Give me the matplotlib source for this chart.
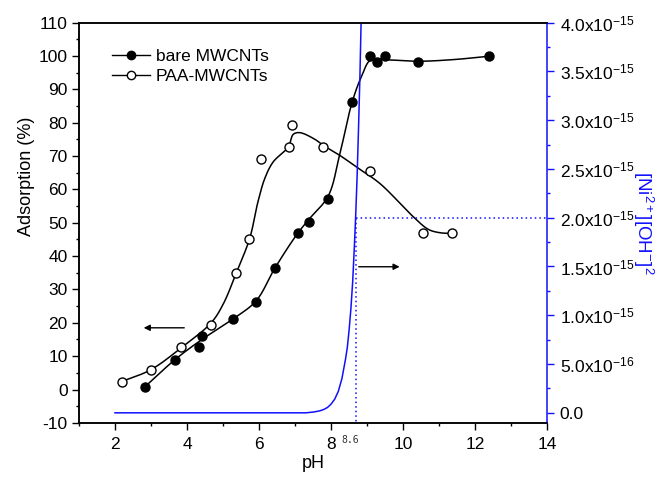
import numpy as np
import matplotlib
matplotlib.use("Agg")
import matplotlib.pyplot as plt
from matplotlib.ticker import MultipleLocator, FuncFormatter
from matplotlib.transforms import blended_transform_factory

plt.rcParams['font.family'] = ['Liberation Sans', 'DejaVu Sans']
plt.rcParams['mathtext.fontset'] = 'custom'
plt.rcParams['mathtext.rm'] = 'Liberation Sans'
plt.rcParams['mathtext.it'] = 'Liberation Sans:italic'
plt.rcParams['mathtext.bf'] = 'Liberation Sans:bold'
plt.rcParams['axes.unicode_minus'] = False

# measured points
bare_ph = [2.82, 3.66, 4.33, 4.41, 5.27, 5.92, 6.44, 7.07, 7.38, 7.92, 8.58, 9.09, 9.28, 9.49, 10.42, 12.38]
bare_ads = [0.7, 8.9, 12.7, 16.0, 21.1, 26.3, 36.5, 46.8, 50.3, 57.1, 86.2, 99.9, 98.1, 99.9, 98.2, 99.9]

paa_ph = [2.19, 2.99, 3.84, 4.67, 5.36, 5.72, 6.05, 6.83, 6.91, 7.78, 9.09, 10.56, 11.36]
paa_ads = [2.4, 5.8, 12.7, 19.4, 34.8, 45.1, 69.0, 72.6, 79.3, 72.6, 65.5, 46.8, 46.8]

# fitted curves
bare_fit_ph = [2.82, 3.66, 4.4, 5.27, 5.92, 6.44, 7.07, 7.4, 7.92, 8.24, 8.58, 8.85, 9.1, 9.6, 10.42, 11.4, 12.38]
bare_fit_ads = [0.7, 8.9, 14.9, 21.1, 26.6, 36.4, 46.8, 51.2, 58.0, 70.5, 86.0, 94.0, 98.8, 98.8, 98.4, 98.9, 99.9]

paa_fit_ph = [2.19, 2.99, 3.84, 4.67, 5.0, 5.37, 5.74, 5.97, 6.16, 6.39, 6.81, 6.95, 7.13, 7.55, 7.78, 8.24, 8.7, 9.35, 10.28, 10.7, 11.02, 11.34]
paa_fit_ads = [2.4, 5.9, 12.5, 20.0, 25.5, 35.0, 45.3, 56.3, 63.3, 68.2, 72.7, 76.5, 77.0, 75.0, 73.2, 70.2, 66.7, 61.8, 51.8, 48.0, 47.0, 46.8]

# [Ni2+][OH-]^2 curve (right axis), units of 1e-15
ksp_ph = [2.0, 7.3, 7.5, 7.6, 7.7, 7.8, 7.9, 8.0, 8.1, 8.2, 8.3, 8.4, 8.45, 8.5, 8.55, 8.6, 8.65, 8.68, 8.72, 8.76, 8.8, 8.85, 8.9]
ksp_val = [0.0, 0.0, 0.008, 0.014, 0.022, 0.035, 0.055, 0.09, 0.14, 0.22, 0.35, 0.55, 0.67, 0.85, 1.07, 1.35, 1.74, 2.0, 2.4, 2.9, 3.45, 4.3, 5.5]

ph_mark = 8.68
ksp_mark = 2.0e-15


def smooth(x, y, n=30, sx=36.0, sy=3.34):
    # centripetal catmull-rom, distances measured in screen-like units
    pts = np.column_stack([np.asarray(x) * sx, np.asarray(y) * sy])
    p = np.vstack([2 * pts[0] - pts[1], pts, 2 * pts[-1] - pts[-2]])
    out = []
    for i in range(1, len(p) - 2):
        p0, p1, p2, p3 = p[i - 1], p[i], p[i + 1], p[i + 2]
        t0 = 0.0
        t1 = t0 + np.linalg.norm(p1 - p0) ** 0.5
        t2 = t1 + np.linalg.norm(p2 - p1) ** 0.5
        t3 = t2 + np.linalg.norm(p3 - p2) ** 0.5
        t = np.linspace(t1, t2, n, endpoint=False)[:, None]
        a1 = (t1 - t) / (t1 - t0) * p0 + (t - t0) / (t1 - t0) * p1
        a2 = (t2 - t) / (t2 - t1) * p1 + (t - t1) / (t2 - t1) * p2
        a3 = (t3 - t) / (t3 - t2) * p2 + (t - t2) / (t3 - t2) * p3
        b1 = (t2 - t) / (t2 - t0) * a1 + (t - t0) / (t2 - t0) * a2
        b2 = (t3 - t) / (t3 - t1) * a2 + (t - t1) / (t3 - t1) * a3
        out.append((t2 - t) / (t2 - t1) * b1 + (t - t1) / (t2 - t1) * b2)
    out.append(pts[-1:])
    s = np.vstack(out)
    return s[:, 0] / sx, s[:, 1] / sy


fig = plt.figure(figsize=(6.69, 4.8), dpi=100)
ax = fig.add_axes([0.118, 0.119, 0.700, 0.834])
ax2 = ax.twinx()

blue = '#1010ff'

# right axis curve
ax2.plot(ksp_ph, np.array(ksp_val) * 1e-15, color=blue, lw=1.1)
ax2.plot([ph_mark, ph_mark], [-1e-15, ksp_mark], color=blue, lw=1.1, ls=(0, (1, 2)))
ax2.plot([ph_mark, 14], [ksp_mark, ksp_mark], color=blue, lw=1.1, ls=(0, (1, 2)))
ax2.set_ylim(-0.103e-15, 4.0e-15)

# left axis curves
bx, by = smooth(bare_fit_ph, bare_fit_ads)
px, py = smooth(paa_fit_ph, paa_fit_ads)
ax.plot(bx, by, color='black', lw=1.1, zorder=3)
ax.plot(px, py, color='black', lw=1.1, zorder=3)
ax.plot(bare_ph, bare_ads, 'o', color='black', ms=6.5, zorder=4)
ax.plot(paa_ph, paa_ads, 'o', mfc='white', mec='black', mew=1.0, ms=6.5, zorder=4)

# legend proxies
h1, = ax.plot([], [], '-o', color='black', ms=6, lw=1.0, label='bare MWCNTs')
h2, = ax.plot([], [], '-o', color='black', mfc='white', ms=6, lw=1.0, label='PAA-MWCNTs')
ax.legend(handles=[h1, h2], loc='upper left', bbox_to_anchor=(0.07, 0.935), frameon=False,
          fontsize=12.5, borderpad=0, borderaxespad=0, handlelength=2.2, handletextpad=0.35,
          labelspacing=0.3)

# arrows
ax.annotate('', xy=(2.72, 18.5), xytext=(4.0, 18.5),
            arrowprops=dict(arrowstyle='-|>', color='black', lw=1.0, mutation_scale=9))
ax.annotate('', xy=(9.98, 36.8), xytext=(8.69, 36.8),
            arrowprops=dict(arrowstyle='-|>', color='black', lw=1.0, mutation_scale=9))

ax.set_xlim(1, 14)
ax.set_ylim(-10, 110)
ax.xaxis.set_minor_locator(MultipleLocator(1))
ax.set_xticks([2, 4, 6, 8, 10, 12, 14])
ax.yaxis.set_major_locator(MultipleLocator(10))
ax.yaxis.set_minor_locator(MultipleLocator(5))
ax.tick_params(axis='both', which='major', direction='out', length=5, width=1.0, labelsize=12.5, pad=3)
ax.tick_params(axis='x', which='major', pad=5)
ax.tick_params(axis='both', which='minor', direction='out', length=2.5, width=1.0)
ax.tick_params(top=False, which='both')

ax2.yaxis.set_major_locator(MultipleLocator(0.5e-15))
ax2.yaxis.set_minor_locator(MultipleLocator(0.25e-15))


def sci_fmt(v, pos):
    if abs(v) < 1e-20:
        return '0.0'
    e = int(np.floor(np.log10(abs(v))))
    m = v / 10 ** e
    return f'{m:.1f}x10$^{{{e}}}$'


ax2.yaxis.set_major_formatter(FuncFormatter(sci_fmt))
ax2.tick_params(axis='y', which='major', direction='out', length=5, width=1.0, color=blue,
                labelsize=12.5, labelcolor='black', pad=4)
ax2.tick_params(axis='y', which='minor', direction='out', length=2.5, width=1.0, color=blue)

for a in (ax, ax2):
    for s in a.spines.values():
        s.set_linewidth(1.1)
ax2.spines['right'].set_color(blue)
ax.spines['right'].set_visible(False)

ax.set_xlabel('pH', fontsize=13, labelpad=2)
ax.set_ylabel('Adsorption (%)', fontsize=13)
ax.yaxis.set_label_coords(-0.094, 0.617)
ax2.set_ylabel('[Ni$^{2+}$][OH$^{-}$]$^{2}$', fontsize=13.5, color=blue, rotation=270, labelpad=15)

trans = blended_transform_factory(ax.transData, ax.transAxes)
ax.text(8.52, -0.042, '8.6', transform=trans, fontsize=7, color='#333333',
        family='DejaVu Sans Mono', ha='center', va='center')

fig.savefig('out.png', dpi=100)
